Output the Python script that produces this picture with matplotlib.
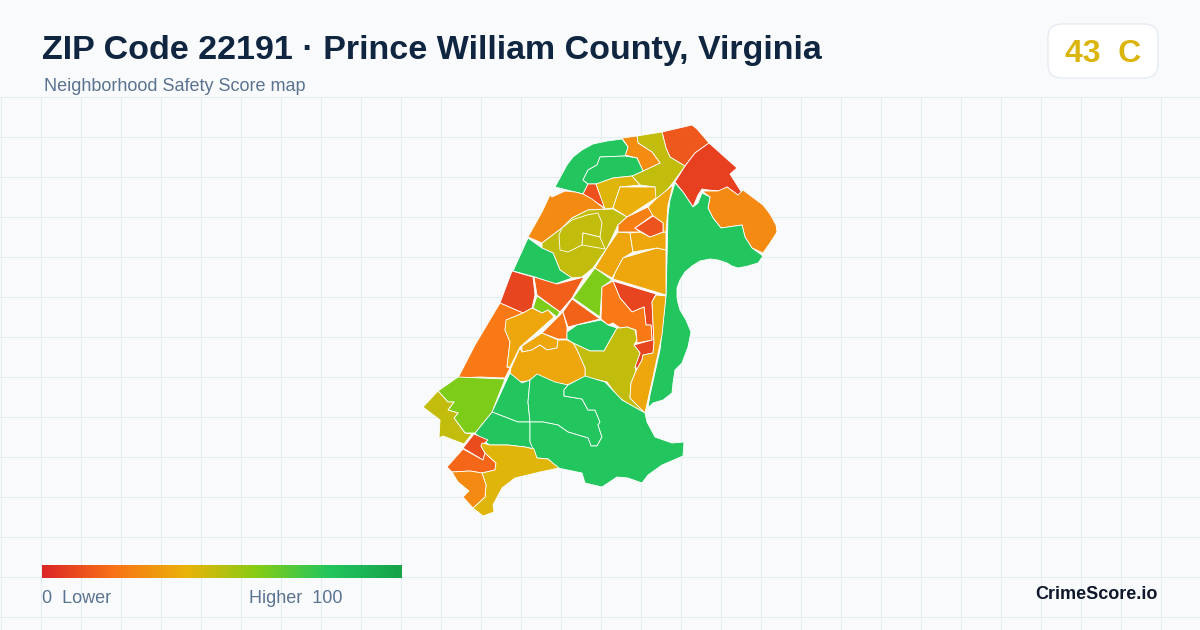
import matplotlib
matplotlib.use('Agg')
import matplotlib.pyplot as plt
import numpy as np
from matplotlib.colors import LinearSegmentedColormap
from matplotlib.patches import FancyBboxPatch, Polygon

plt.rcParams['font.family'] = ['Liberation Sans', 'DejaVu Sans']

title = 'ZIP Code 22191 · Prince William County, Virginia'
subtitle = 'Neighborhood Safety Score map'
overall_score = 43
overall_grade = 'C'

scale_stops = [0, 20, 40, 60, 80, 100]
scale_colors = ['#dc2626', '#f97316', '#eab308', '#84cc16', '#22c55e', '#16a34a']

# neighborhood outlines
outlines = [
    [(662,132),(692,125),(697,129),(709,143),(695,153),(685,166),(670,157),(666,148)],
    [(709,143),(737,168),(730,174),(742,193),(738,195),(727,187),(720,191),(708,190),(702,189),(698,195),(693,207),(683,192),(675,182),(685,166),(695,153)],
    [(702,191),(718,191),(727,187),(738,195),(743,190),(763,205),(770,214),(776,225),(777,232),(770,243),(763,253),(752,248),(745,237),(742,225),(721,228),(713,218),(708,208),(710,197)],
    [(675,183),(683,192),(693,207),(698,203),(702,193),(710,197),(708,208),(713,218),(721,228),(742,225),(745,237),(752,248),(763,256),(758,263),(748,266),(738,268),(732,266),(727,263),(718,260),(710,259),(700,261),(692,266),(685,272),(680,280),(677,288),(677,297),(678,303),(680,310),(686,320),(691,332),(688,347),(682,363),(675,370),(673,383),(672,393),(663,400),(653,403),(648,408),(650,395),(660,350),(666,295),(667,260),(668,215),(670,200)],
    [(637,136),(662,132),(666,148),(670,157),(685,166),(675,180),(663,195),(655,200),(655,187),(640,185),(632,176),(660,163),(652,152),(638,143)],
    [(622,138),(637,136),(638,143),(652,152),(660,163),(643,171),(637,158),(625,155),(628,147)],
    [(622,139),(607,141),(593,144),(582,150),(573,157),(567,165),(555,187),(583,194),(588,184),(583,180),(588,170),(597,165),(600,157),(625,156),(628,147)],
    [(600,157),(625,156),(637,158),(643,171),(632,176),(613,178),(597,184),(588,184),(583,180),(588,170),(597,165)],
    [(588,184),(596,184),(605,208),(597,203),(583,194)],
    [(596,184),(613,178),(632,176),(640,185),(620,187),(613,208),(605,209)],
    [(620,187),(655,187),(656,198),(627,217),(613,208)],
    [(550,195),(552,197),(565,191),(575,192),(583,194),(592,199),(597,203),(605,209),(588,210),(572,218),(562,228),(542,243),(528,237),(542,212)],
    [(588,210),(613,209),(627,217),(618,225),(607,248),(593,268),(582,277),(572,278),(560,270),(553,253),(542,248),(542,243),(562,228),(572,218)],
    [(572,220),(587,215),(598,213),(602,223),(600,237),(583,233),(582,245),(572,250),(568,252),(560,250),(559,235),(562,228)],
    [(583,233),(600,237),(605,249),(582,245)],
    [(528,238),(542,248),(553,253),(560,270),(572,278),(555,284),(535,277),(513,271)],
    [(512,271),(533,277),(535,295),(532,308),(523,313),(500,303)],
    [(534,277),(557,284),(584,277),(572,298),(560,312),(537,295)],
    [(537,296),(560,312),(557,317),(548,310),(542,313),(533,308)],
    [(500,303),(523,313),(507,320),(505,330),(510,342),(507,367),(510,368),(505,378),(480,377),(458,378),(475,345)],
    [(506,320),(523,313),(532,308),(542,313),(548,310),(554,317),(537,332),(520,347),(510,367),(507,367),(510,342),(505,330)],
    [(542,333),(558,340),(557,348),(547,350),(540,345),(532,350),(522,352),(522,346)],
    [(563,312),(567,327),(567,339),(558,339),(542,333)],
    [(572,299),(600,319),(568,327),(563,312)],
    [(595,268),(612,280),(602,287),(600,317),(573,298)],
    [(618,232),(630,233),(633,252),(623,258),(615,273),(612,278),(595,268),(607,248)],
    [(623,258),(657,248),(666,250),(666,295),(613,279),(615,273)],
    [(630,233),(640,232),(650,237),(663,232),(666,232),(666,250),(657,248),(633,252)],
    [(627,217),(648,207),(653,215),(635,228),(640,232),(618,232),(618,225)],
    [(656,199),(673,185),(668,205),(666,232),(663,232),(663,223),(653,216),(648,207)],
    [(635,228),(653,216),(663,223),(663,232),(650,237)],
    [(613,281),(656,294),(652,302),(654,343),(653,353),(643,355),(642,360),(637,370),(635,365),(640,353),(634,345),(652,340),(651,325),(646,325),(644,307),(632,312),(620,298)],
    [(613,281),(620,298),(632,312),(644,307),(646,325),(651,325),(652,340),(637,343),(636,330),(627,327),(620,328),(613,323),(608,325),(601,319),(602,287)],
    [(567,332),(577,325),(601,320),(608,325),(617,328),(604,351),(590,351),(573,343),(567,339)],
    [(617,328),(620,328),(627,327),(635,330),(637,340),(634,345),(640,353),(635,367),(636,371),(631,383),(630,398),(645,413),(627,403),(618,397),(607,382),(585,377),(585,368),(577,350),(573,343),(590,351),(604,351)],
    [(656,295),(666,296),(662,335),(653,377),(645,413),(630,398),(631,383),(636,371),(642,360),(643,355),(653,353),(654,343),(652,302)],
    [(522,352),(532,350),(540,345),(547,350),(557,348),(558,340),(567,340),(573,343),(577,350),(585,368),(585,377),(567,385),(552,382),(537,375),(528,381),(517,382),(510,373),(511,368),(520,348)],
    [(510,373),(522,383),(530,380),(528,402),(530,422),(518,422),(492,412)],
    [(492,412),(518,422),(530,422),(530,442),(534,449),(525,447),(508,445),(490,445),(482,440),(475,433)],
    [(530,380),(537,374),(555,382),(568,385),(564,390),(564,396),(582,399),(588,410),(595,410),(600,422),(598,425),(602,437),(597,446),(591,446),(588,438),(568,432),(558,425),(543,422),(530,422),(528,402)],
    [(568,385),(585,376),(605,382),(622,400),(645,413),(647,422),(655,437),(672,443),(684,442),(683,456),(662,465),(648,475),(642,483),(628,478),(617,477),(602,487),(585,483),(582,473),(558,468),(548,459),(537,458),(530,442),(530,422),(543,422),(558,425),(568,432),(588,438),(591,446),(597,446),(602,437),(598,425),(600,422),(595,410),(588,410),(582,399),(564,396),(564,390)],
    [(458,377),(505,379),(492,412),(475,433),(465,433),(454,418),(458,413),(448,410),(454,402),(448,402),(438,391)],
    [(438,391),(448,402),(454,402),(448,410),(458,413),(454,418),(465,433),(472,434),(464,444),(443,436),(439,438),(440,420),(423,407)],
    [(474,434),(488,440),(481,446),(485,453),(483,460),(463,448)],
    [(463,449),(483,460),(485,453),(496,463),(495,470),(482,473),(470,471),(452,472),(447,467)],
    [(482,443),(490,445),(508,445),(525,447),(534,449),(537,458),(548,459),(559,468),(540,472),(515,478),(502,488),(493,505),(494,512),(483,516),(473,508),(485,497),(486,485),(482,473),(495,470),(496,463),(485,453),(481,446)],
    [(452,472),(470,471),(482,473),(486,485),(485,497),(473,508),(463,497),(469,491),(458,482)],
]
scores = [13, 7, 27, 80, 48, 28, 80, 80, 11, 42, 39, 27, 48, 48, 48, 80, 8, 15, 61, 22,
          36, 36, 21, 16, 61, 36, 36, 36, 24, 36, 12, 8, 22, 80, 48, 36, 36, 80, 80, 80,
          80, 61, 48, 10, 17, 42, 27]

cmap = LinearSegmentedColormap.from_list(
    'safety', [(s / 100, c) for s, c in zip(scale_stops, scale_colors)])

fig = plt.figure(figsize=(12, 6.3), dpi=100, facecolor='#f8fafc')
ax = fig.add_axes([0, 0, 1, 1])
ax.axis('off')

# background grid
for x in np.arange(1, 1200, 40):
    ax.plot([x, x], [96.5, 630], c='#e2eef2', lw=0.75, zorder=1)
for y in np.arange(96.5, 630, 40):
    ax.plot([0, 1200], [y, y], c='#e2eef2', lw=0.75, zorder=1)

for outline, score in zip(outlines, scores):
    ax.add_patch(Polygon(outline, closed=True, fc=cmap(score / 100), ec='white',
                         lw=0.6, joinstyle='round', zorder=2))

# title block
ax.text(42, 59, title, fontsize=24.5, fontweight='bold', color='#0f2540', va='baseline', zorder=5)
ax.text(44, 91, subtitle, fontsize=13, color='#5b7390', va='baseline', zorder=5)

# score badge
ax.add_patch(FancyBboxPatch((1062, 38), 82, 26, boxstyle='round,pad=14,rounding_size=14',
                            fc='white', ec='#e2e8f0', lw=0.8, zorder=4))
ax.text(1103, 62, '{}  {}'.format(overall_score, overall_grade), fontsize=23, fontweight='bold',
        color='#dbb40c', ha='center', va='baseline', zorder=5)

# colour scale
gradient = np.linspace(0, 1, 360).reshape(1, -1)
ax.imshow(gradient, cmap=cmap, extent=(42, 402, 578, 565), aspect='auto', zorder=3)
ax.text(42, 603, '0  Lower', fontsize=13, color='#5b7390', va='baseline', zorder=5)
ax.text(249, 603, 'Higher  100', fontsize=13, color='#5b7390', va='baseline', zorder=5)
ax.text(1158, 599, 'CrimeScore.io', fontsize=13, fontweight='bold', color='#0f172a',
        ha='right', va='baseline', zorder=5)

ax.set_xlim(0, 1200)
ax.set_ylim(630, 0)
fig.savefig('out.png', dpi=100, facecolor=fig.get_facecolor())
